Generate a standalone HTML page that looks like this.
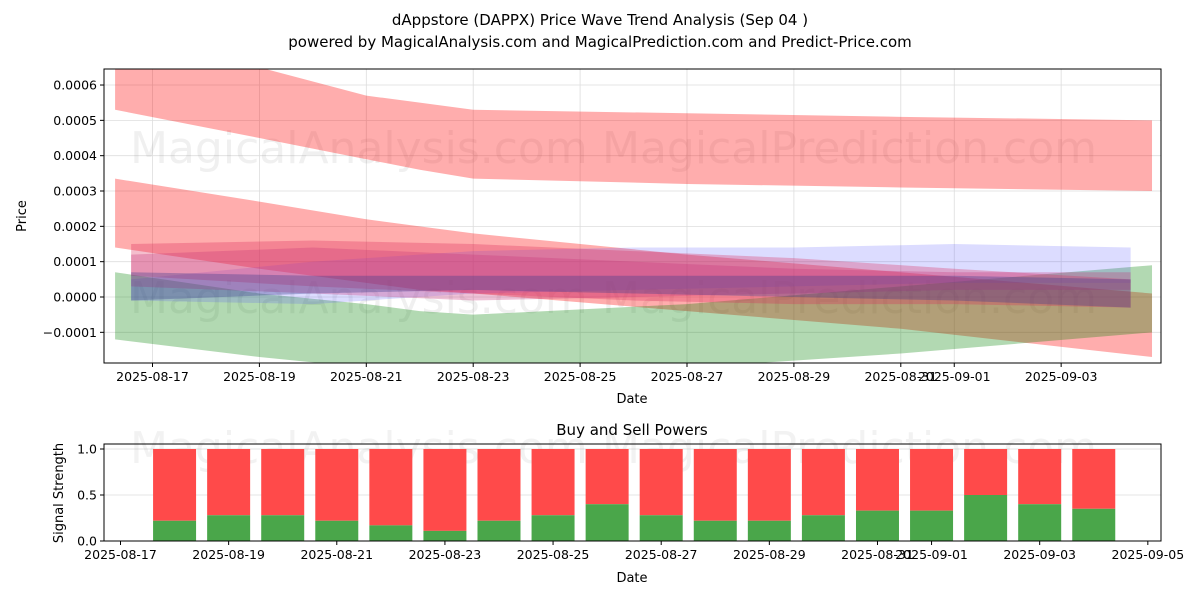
<!DOCTYPE html>
<html><head><meta charset="utf-8"><style>
body{margin:0;background:#fff;font-family:"Liberation Sans","DejaVu Sans",sans-serif;}
svg text{font-family:"DejaVu Sans","Liberation Sans",sans-serif;}
</style></head><body>
<svg id="chart" width="1200" height="600" xmlns="http://www.w3.org/2000/svg">
<rect width="1200" height="600" fill="#fff"/>
<text x="600" y="25" font-size="15" text-anchor="middle">dAppstore (DAPPX) Price Wave Trend Analysis (Sep 04 )</text>
<text x="600" y="47" font-size="15" text-anchor="middle">powered by MagicalAnalysis.com and MagicalPrediction.com and Predict-Price.com</text>
<defs><clipPath id="ct"><rect x="104" y="69" width="1057" height="294"/></clipPath></defs>
<g id="topg"></g>
<g id="botg"></g>
</svg>
<script>
// Day offsets are measured from 2025-08-17
const topTickLabels=["2025-08-17","2025-08-19","2025-08-21","2025-08-23","2025-08-25","2025-08-27","2025-08-29","2025-08-31","2025-09-01","2025-09-03"];
const topTickDays=[0,2,4,6,8,10,12,14,15,17];
const priceTicks=[-0.0001,0,0.0001,0.0002,0.0003,0.0004,0.0005,0.0006];
const bandDays=[-0.7,2,4,5,6,10,14,18.7];
const band1Upper=[0.0007,0.00065,0.00057,0.00055,0.00053,0.00052,0.00051,0.0005];
const band1Lower=[0.00053,0.00045,0.00039,0.00036,0.000335,0.00032,0.00031,0.0003];
const band2Upper=[0.000335,0.00027,0.00022,0.0002,0.00018,0.00012,0.00007,0.00001];
const band2Lower=[0.00014,0.00008,0.00004,0.00002,0.00001,-0.00004,-0.00009,-0.00017];
const band3Upper=[0.00007,0.00001,-0.00002,-0.00004,-0.00005,-0.00002,0.00003,0.00009];
const band3Lower=[-0.00012,-0.00017,-0.0002,-0.00021,-0.00022,-0.0002,-0.00016,-0.0001];
const midDays=[-0.4,3,6,9,12,15,18.3];
const mid1Upper=[0.00015,0.00016,0.00015,0.00013,0.00011,0.00008,0.00005];
const mid1Lower=[0.00006,0.00003,0.00001,-0.00001,-0.00002,-0.00002,-0.00003];
const mid2Upper=[0.00005,0.0001,0.00013,0.00014,0.00014,0.00015,0.00014];
const mid2Lower=[-0.00001,-0.00002,0.00001,0.00002,0.00003,0.00004,0.00004];
const mid3Upper=[0.00012,0.00014,0.00012,0.0001,0.00008,0.00007,0.00007];
const mid3Lower=[0.00003,0.00001,-0.00001,0,0.00001,0.00002,0.00002];
const mid4Upper=[0.00007,0.00006,0.00006,0.00006,0.00006,0.00006,0.00005];
const mid4Lower=[-0.00001,0.00001,0.00002,0.00001,0.0,-0.00001,-0.00003];
const barDays=[1,2,3,4,5,6,7,8,9,10,11,12,13,14,15,16,17,18];
const buyPower=[0.22,0.28,0.28,0.22,0.17,0.11,0.22,0.28,0.40,0.28,0.22,0.22,0.28,0.33,0.33,0.50,0.40,0.35];
const botTickLabels=["2025-08-17","2025-08-19","2025-08-21","2025-08-23","2025-08-25","2025-08-27","2025-08-29","2025-08-31","2025-09-01","2025-09-03","2025-09-05"];
const botTickDays=[0,2,4,6,8,10,12,14,15,17,19];
const strengthTicks=[0,0.5,1.0];

const NS="http://www.w3.org/2000/svg";
function mk(parent,tag,attrs){const e=document.createElementNS(NS,tag);for(const k in attrs)e.setAttribute(k,attrs[k]);parent.appendChild(e);return e;}
const T={l:104,r:1161,t:69,b:363};
const tx=d=>152.5+d*53.45;
const ty=v=>297-v*353300;
const B={l:104,r:1161,t:444,b:541};
const bx=d=>120.5+d*54.07;
const by=v=>541-v*92;

const topG=document.getElementById('topg');
topTickDays.forEach((d,i)=>{
  const g=mk(topG,'line',{x1:tx(d),x2:tx(d),y1:T.t,y2:T.b,stroke:'#ddd','stroke-width':0.8});
  
  
  mk(topG,'line',{x1:tx(d),x2:tx(d),y1:T.b,y2:T.b+4,stroke:'#000'});
  const t=mk(topG,'text',{x:tx(d),y:T.b+18,'font-size':12.5,'text-anchor':'middle'});
  t.textContent=topTickLabels[i];
  
  
});
priceTicks.forEach(v=>{
  mk(topG,'line',{x1:T.l,x2:T.r,y1:ty(v),y2:ty(v),stroke:'#ddd','stroke-width':0.8});
  mk(topG,'line',{x1:T.l-4,x2:T.l,y1:ty(v),y2:ty(v),stroke:'#000'});
  const t=mk(topG,'text',{x:T.l-7,y:ty(v)+4.5,'font-size':12.5,'text-anchor':'end'});
  t.textContent=(v<0?'\u2212':'')+Math.abs(v).toFixed(4);
  
  
});
[[130,163,'MagicalAnalysis.com'],[602,163,'MagicalPrediction.com'],[130,313,'MagicalAnalysis.com'],[602,313,'MagicalPrediction.com']].forEach(w=>{
  const t=mk(topG,'text',{x:w[0],y:w[1],'font-size':44,fill:'rgba(128,128,128,0.12)'});t.textContent=w[2];
  
  
});
function band(days,up,lo,fill,name){
  let d='';days.forEach((x,i)=>{d+=(i?'L':'M')+tx(x)+','+ty(up[i]);});
  for(let i=days.length-1;i>=0;i--)d+='L'+tx(days[i])+','+ty(lo[i]);
  const p=mk(topG,'path',{d:d+'Z',fill:fill,'clip-path':'url(#ct)'});
  
  
}
band(bandDays,band1Upper,band1Lower,'rgba(255,0,0,0.32)','upper-red-band');
band(bandDays,band2Upper,band2Lower,'rgba(255,0,0,0.32)','middle-red-band');
band(bandDays,band3Upper,band3Lower,'rgba(0,128,0,0.3)','green-band');
band(midDays,mid2Upper,mid2Lower,'rgba(80,80,255,0.2)','blue-band');
band(midDays,mid1Upper,mid1Lower,'rgba(220,40,90,0.3)','pink-band');
band(midDays,mid3Upper,mid3Lower,'rgba(200,50,120,0.3)','magenta-band');
band(midDays,mid4Upper,mid4Lower,'rgba(60,60,140,0.35)','dark-band');
mk(topG,'rect',{x:T.l,y:T.t,width:T.r-T.l,height:T.b-T.t,fill:'none',stroke:'#000','stroke-width':1});
let t=mk(topG,'text',{x:632,y:403,'font-size':13,'text-anchor':'middle'});t.textContent='Date';

t=mk(topG,'text',{x:26,y:216,'font-size':13,'text-anchor':'middle',transform:'rotate(-90 26 216)'});t.textContent='Price';


const botG=document.getElementById('botg');
t=mk(botG,'text',{x:632,y:435,'font-size':15,'text-anchor':'middle'});t.textContent='Buy and Sell Powers';

strengthTicks.forEach(v=>{
  mk(botG,'line',{x1:B.l,x2:B.r,y1:by(v),y2:by(v),stroke:'#ddd','stroke-width':0.8});
  mk(botG,'line',{x1:B.l-4,x2:B.l,y1:by(v),y2:by(v),stroke:'#000'});
  const s=mk(botG,'text',{x:B.l-7,y:by(v)+4.5,'font-size':12.5,'text-anchor':'end'});s.textContent=v.toFixed(1);
  
});
[[130,463,'MagicalAnalysis.com'],[602,463,'MagicalPrediction.com']].forEach(w=>{
  const s=mk(botG,'text',{x:w[0],y:w[1],'font-size':44,fill:'rgba(128,128,128,0.1)'});s.textContent=w[2];
  
});
barDays.forEach((d,i)=>{
  const w=43;
  const r=mk(botG,'rect',{x:bx(d)-w/2,y:by(1),width:w,height:by(buyPower[i])-by(1),fill:'#ff4a4a'});
  
  const g=mk(botG,'rect',{x:bx(d)-w/2,y:by(buyPower[i]),width:w,height:by(0)-by(buyPower[i]),fill:'#4aa64a'});
  
});
botTickDays.forEach((d,i)=>{
  mk(botG,'line',{x1:bx(d),x2:bx(d),y1:B.b,y2:B.b+4,stroke:'#000'});
  const s=mk(botG,'text',{x:bx(d),y:B.b+18,'font-size':12.5,'text-anchor':'middle'});s.textContent=botTickLabels[i];
  
});
mk(botG,'rect',{x:B.l,y:B.t,width:B.r-B.l,height:B.b-B.t,fill:'none',stroke:'#000','stroke-width':1});
t=mk(botG,'text',{x:632,y:582,'font-size':13,'text-anchor':'middle'});t.textContent='Date';

t=mk(botG,'text',{x:63,y:493,'font-size':13,'text-anchor':'middle',transform:'rotate(-90 63 493)'});t.textContent='Signal Strength';

</script>
</body></html>
